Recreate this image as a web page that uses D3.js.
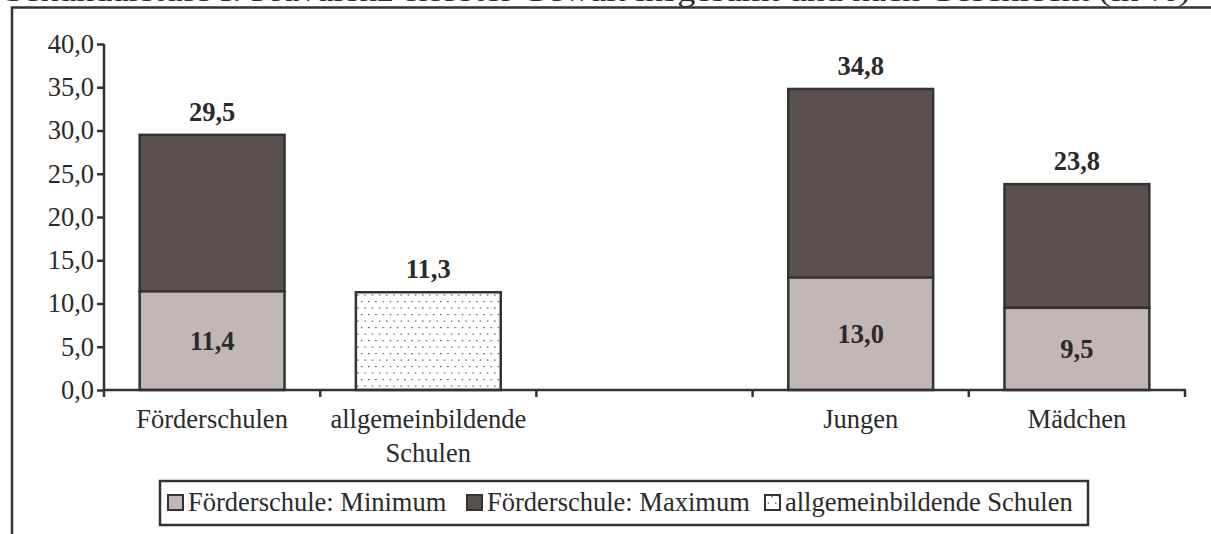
<!DOCTYPE html>
<html>
<head>
<meta charset="utf-8">
<script src="https://cdn.jsdelivr.net/npm/d3@7"></script>
<style>
  html, body { margin: 0; padding: 0; background: #fff; }
  svg { display: block; }
  svg text { font-family: "Liberation Serif", "Times New Roman", serif; }
</style>
</head>
<body>
<svg id="chart" width="1211" height="534"></svg>
<script>
// Categories along the x axis ("" is an empty spacer slot between the two groups)
const categories = ["Förderschulen", "allgemeinbildende Schulen", "", "Jungen", "Mädchen"];
const categoryLines = [["Förderschulen"], ["allgemeinbildende", "Schulen"], [], ["Jungen"], ["Mädchen"]];

// Förderschule: minimum and maximum prevalence (stacked), null where not applicable
const foerderMin = [11.4, null, null, 13.0, 9.5];
const foerderMax = [29.5, null, null, 34.8, 23.8];
// allgemeinbildende Schulen
const allgemein = [null, 11.3, null, null, null];

const yTicks = [0, 5, 10, 15, 20, 25, 30, 35, 40];
const legendLabels = ["Förderschule: Minimum", "Förderschule: Maximum", "allgemeinbildende Schulen"];
const titleText = "Sekundarstufe I: Prävalenz erlebter Gewalt insgesamt und nach Geschlecht (in %)";

const colMin = "#c1b7b4", colMax = "#5a504e", colStroke = "#333333", colText = "#2a2a2a";
const serif = "Liberation Serif, Times New Roman, serif";
const fs = 26.5;

const de = d3.formatLocale({ decimal: ",", thousands: ".", grouping: [3], currency: ["", " €"] });
const fmt = de.format(".1f");

const svg = d3.select("#chart");

// dotted fill for allgemeinbildende Schulen
const defs = svg.append("defs");
const pat = defs.append("pattern").attr("id", "dots")
  .attr("patternUnits", "userSpaceOnUse").attr("width", 7.2).attr("height", 13);
pat.append("rect").attr("width", 7.2).attr("height", 13).attr("fill", "#fff");
pat.append("rect").attr("x", 1).attr("y", 2).attr("width", 1.2).attr("height", 1.2).attr("fill", "#333");
pat.append("rect").attr("x", 4.6).attr("y", 8.5).attr("width", 1.2).attr("height", 1.2).attr("fill", "#333");

// title line (runs off the top edge) and outer frame
svg.append("text").attr("x", 4).attr("y", 0.5).attr("font-family", serif).attr("font-size", fs)
  .attr("fill", colText).attr("textLength", 1186).attr("lengthAdjust", "spacingAndGlyphs").text(titleText);
svg.append("rect").attr("x", 12).attr("y", 7.5).attr("width", 1250).attr("height", 600)
  .attr("fill", "none").attr("stroke", colStroke).attr("stroke-width", 2.5);

const x = d3.scaleBand().domain(categories.map((c, i) => i)).range([104, 1185]).padding(0);
const y = d3.scaleLinear().domain([0, 40]).range([390, 44]);
const barW = x.bandwidth() * 0.67;
const barX = i => x(i) + (x.bandwidth() - barW) / 2;

// y axis
const yAxis = svg.append("g").attr("transform", "translate(104,0)")
  .call(d3.axisLeft(y).tickValues(yTicks).tickFormat(fmt).tickSize(7).tickSizeOuter(0));
yAxis.attr("font-family", serif);
yAxis.select(".domain").attr("stroke", colStroke).attr("stroke-width", 2.5)
  .attr("d", `M0,${y(40)}V${y(0) + 7}`);
yAxis.selectAll(".tick line").attr("stroke", colStroke).attr("stroke-width", 2.5);
yAxis.selectAll(".tick text").attr("font-family", serif).attr("font-size", fs)
  .attr("fill", colText).attr("x", -10);

// bars
const g = svg.append("g");
categories.forEach((c, i) => {
  const cx = x(i) + x.bandwidth() / 2;
  if (foerderMin[i] != null) {
    g.append("rect").attr("x", barX(i)).attr("y", y(foerderMax[i])).attr("width", barW)
      .attr("height", y(foerderMin[i]) - y(foerderMax[i]))
      .attr("fill", colMax).attr("stroke", colStroke).attr("stroke-width", 2.5);
    g.append("rect").attr("x", barX(i)).attr("y", y(foerderMin[i])).attr("width", barW)
      .attr("height", y(0) - y(foerderMin[i]))
      .attr("fill", colMin).attr("stroke", colStroke).attr("stroke-width", 2.5);
    g.append("text").attr("x", cx).attr("y", (y(foerderMin[i]) + y(0)) / 2)
      .attr("dy", "0.35em").attr("text-anchor", "middle").attr("font-family", serif)
      .attr("font-weight", "bold").attr("font-size", fs).attr("fill", colText).text(fmt(foerderMin[i]));
    g.append("text").attr("x", cx).attr("y", y(foerderMax[i]) - 14)
      .attr("text-anchor", "middle").attr("font-family", serif).attr("font-weight", "bold")
      .attr("font-size", fs).attr("fill", colText).text(fmt(foerderMax[i]));
  }
  if (allgemein[i] != null) {
    g.append("rect").attr("x", barX(i)).attr("y", y(allgemein[i])).attr("width", barW)
      .attr("height", y(0) - y(allgemein[i]))
      .attr("fill", "url(#dots)").attr("stroke", colStroke).attr("stroke-width", 2.5);
    g.append("text").attr("x", cx).attr("y", y(allgemein[i]) - 14)
      .attr("text-anchor", "middle").attr("font-family", serif).attr("font-weight", "bold")
      .attr("font-size", fs).attr("fill", colText).text(fmt(allgemein[i]));
  }
});

// x axis with ticks on category boundaries
const xa = svg.append("g");
xa.append("line").attr("x1", 104).attr("x2", 1186).attr("y1", y(0)).attr("y2", y(0))
  .attr("stroke", colStroke).attr("stroke-width", 2.5);
categories.forEach((c, i) => {
  const bx = x(i) + x.bandwidth();
  const cx = x(i) + x.bandwidth() / 2;
  xa.append("line").attr("x1", bx).attr("x2", bx).attr("y1", y(0)).attr("y2", y(0) + 7)
    .attr("stroke", colStroke).attr("stroke-width", 2.5);
  const t = xa.append("text").attr("x", cx).attr("y", y(0) + 38)
    .attr("text-anchor", "middle").attr("font-family", serif).attr("font-size", fs).attr("fill", colText);
  categoryLines[i].forEach((ln, k) => {
    t.append("tspan").attr("x", cx).attr("dy", k === 0 ? 0 : 34).text(ln);
  });
});

// legend
const lg = svg.append("g");
lg.append("rect").attr("x", 160).attr("y", 481).attr("width", 928).attr("height", 44)
  .attr("fill", "#fff").attr("stroke", colStroke).attr("stroke-width", 2.5);
const legendX = [168, 467, 765];
const legendFill = [colMin, colMax, "url(#dots)"];
legendLabels.forEach((lab, i) => {
  lg.append("rect").attr("x", legendX[i]).attr("y", 495).attr("width", 15).attr("height", 15)
    .attr("fill", legendFill[i]).attr("stroke", colStroke).attr("stroke-width", 2);
  lg.append("text").attr("x", legendX[i] + 20).attr("y", 511).attr("font-family", serif)
    .attr("font-size", fs).attr("fill", colText).text(lab);
});
</script>
</body>
</html>
